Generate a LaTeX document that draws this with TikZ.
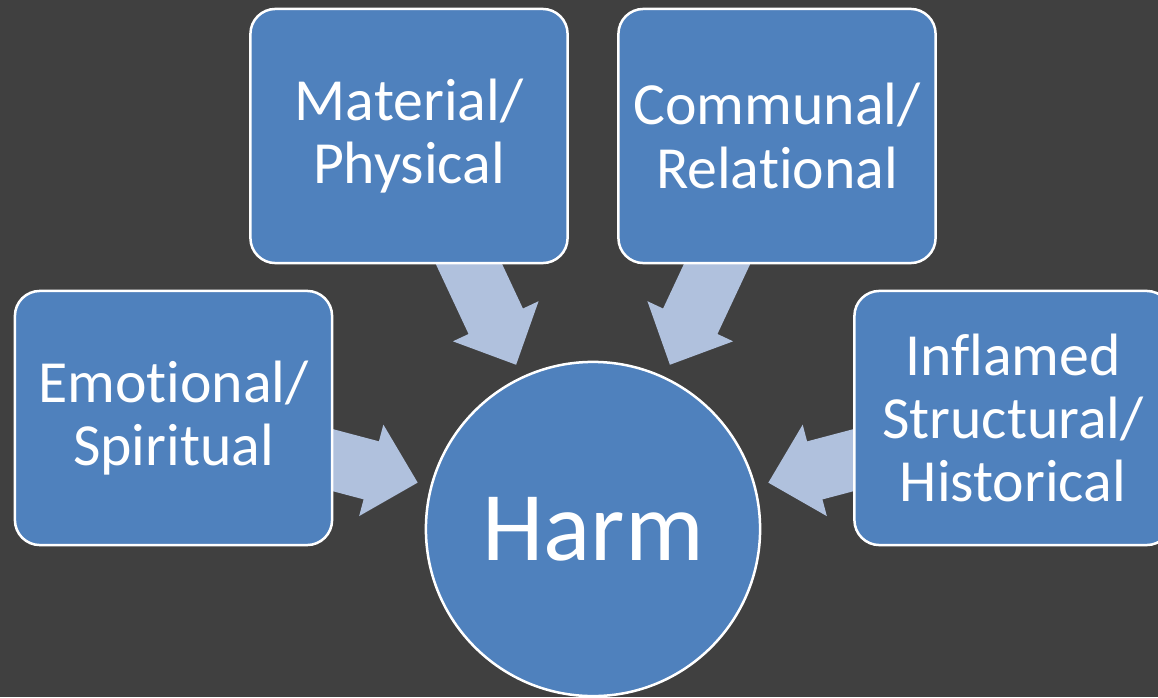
\documentclass[tikz,border=0pt]{standalone}
\usepackage{fontspec}
\setmainfont[Ligatures={NoCommon,NoDiscretionary}]{Carlito}
\usetikzlibrary{arrows.meta}
\definecolor{slate}{HTML}{404040}
\definecolor{boxblue}{HTML}{4F81BD}
\definecolor{arrowblue}{HTML}{B0C1DD}
\pgfdeclarelayer{backdrop}
\pgfdeclarelayer{links}
\pgfsetlayers{backdrop,links,main}

\begin{document}
\begin{tikzpicture}[x=0.01cm, y=-0.01cm,
    harmbox/.style={draw=white, line width=0.025cm, fill=boxblue, rounded corners=0.25cm,
      minimum width=3.17cm, minimum height=2.54cm, inner sep=0pt, align=center,
      text=white, font=\fontsize{17}{18}\selectfont},
    harmcircle/.style={circle, draw=white, line width=0.025cm, fill=boxblue,
      minimum size=3.34cm, inner sep=0pt, text=white, font=\fontsize{28}{30}\selectfont},
    feed/.style={draw=arrowblue, line width=0.6cm,
      -{Triangle[length=0.48cm, width=0.94cm, line width=0.8pt]}, shorten >=0.13cm} ]
    \begin{pgfonlayer}{backdrop}
    \fill [slate] (0,0) rectangle (1158,697);
    \end{pgfonlayer}
    \useasboundingbox (0,0) rectangle (1158,697);
    \node at (593,529) [harmcircle] (harm) {Harm};
    \node at (173.5,418) [harmbox] (emo) {Emotional/\\Spiritual};
    \node at (409,136) [harmbox] (mat) {Material/\\Physical};
    \node at (777,136) [harmbox] (com) {Communal/\\Relational};
    \node at (1013,418) [harmbox] (infl) {Inflamed\\Structural/\\Historical};
    \begin{pgfonlayer}{links}
    \foreach \src in {emo, mat, com, infl}
      \draw [feed] (\src.center) -- (harm);
    \end{pgfonlayer}
\end{tikzpicture}
\end{document}
